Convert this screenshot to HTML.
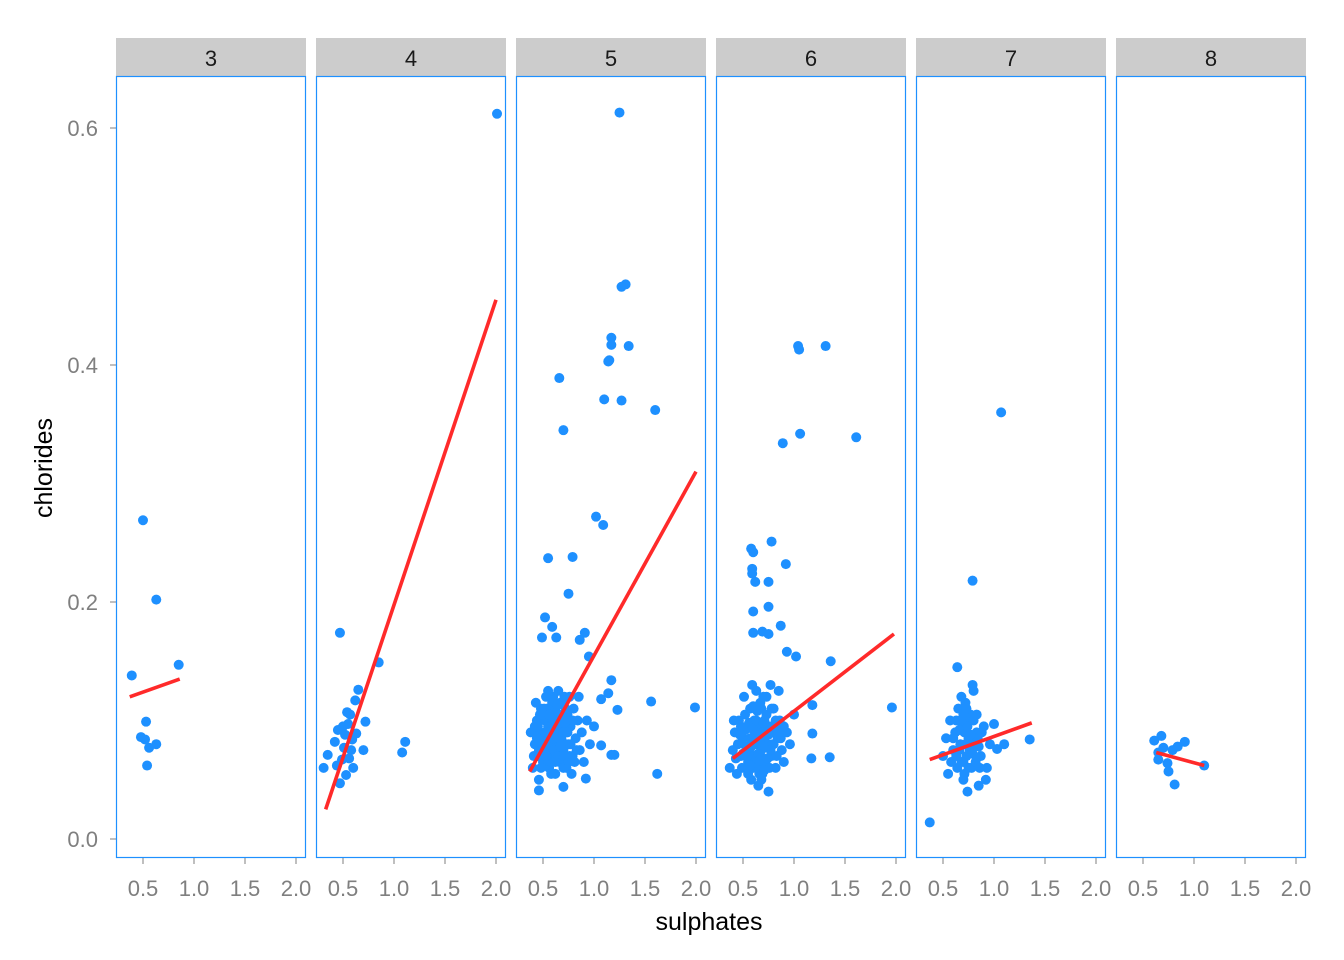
<!DOCTYPE html>
<html><head><meta charset="utf-8"><style>
body{margin:0;background:#fff;}
svg{display:block;font-family:"Liberation Sans",Arial,sans-serif;}
</style></head><body>
<svg id="chart" width="1344" height="960" xmlns="http://www.w3.org/2000/svg">
<text x="52" y="468" font-size="25" text-anchor="middle" transform="rotate(-90 52 468)">chlorides</text>
<text x="709" y="930" font-size="25" text-anchor="middle">sulphates</text>
</svg>
<script>
const facets=["3","4","5","6","7","8"];
const yTicks=[0,0.2,0.4,0.6];
const yTickLabels=["0.0","0.2","0.4","0.6"];
const xTicks=[0.5,1.0,1.5,2.0];
const xTickLabels=["0.5","1.0","1.5","2.0"];
const pts3=[[0.39,0.138],[0.5,0.269],[0.63,0.202],[0.85,0.147],[0.53,0.099],[0.48,0.086],[0.52,0.084],[0.56,0.077],[0.63,0.08],[0.54,0.062]];
const pts4=[[2.01,0.612],[0.47,0.174],[0.85,0.149],[1.08,0.073],[1.11,0.082],[0.31,0.06],[0.35,0.071],[0.42,0.082],[0.45,0.092],[0.49,0.067],[0.47,0.047],[0.53,0.054],[0.57,0.105],[0.59,0.084],[0.62,0.117],[0.65,0.126],[0.55,0.097],[0.52,0.088],[0.7,0.075],[0.72,0.099],[0.44,0.062],[0.51,0.077],[0.6,0.06],[0.54,0.107],[0.63,0.089],[0.5,0.095],[0.58,0.075],[0.56,0.068]];
const pts5=[[1.25,0.613],[1.31,0.468],[1.27,0.466],[1.34,0.416],[1.17,0.423],[1.17,0.417],[1.15,0.404],[1.14,0.403],[1.1,0.371],[1.27,0.37],[1.6,0.362],[0.66,0.389],[0.7,0.345],[1.02,0.272],[1.09,0.265],[0.55,0.237],[0.79,0.238],[0.75,0.207],[1.99,0.111],[1.56,0.116],[1.62,0.055],[0.52,0.187],[0.59,0.179],[0.49,0.17],[0.63,0.17],[0.91,0.174],[0.86,0.168],[0.95,0.154],[1.17,0.134],[1.14,0.123],[1.07,0.118],[1.23,0.109],[1.17,0.071],[1.2,0.071],[1.07,0.079],[0.92,0.051],[0.7,0.044],[0.46,0.041],
[0.4,0.06],[0.42,0.08],[0.44,0.1],[0.45,0.07],[0.47,0.09],[0.48,0.11],[0.5,0.065],[0.5,0.085],[0.52,0.1],[0.53,0.12],[0.54,0.075],[0.55,0.095],[0.56,0.06],[0.57,0.11],[0.58,0.08],[0.59,0.1],[0.6,0.07],[0.6,0.12],[0.61,0.09],[0.62,0.055],[0.63,0.105],[0.64,0.08],[0.65,0.095],[0.66,0.065],[0.67,0.115],[0.68,0.085],[0.69,0.1],[0.7,0.075],[0.71,0.12],[0.72,0.09],[0.73,0.06],[0.74,0.105],[0.75,0.08],[0.77,0.095],[0.79,0.07],[0.8,0.11],[0.82,0.085],[0.84,0.1],[0.86,0.075],[0.88,0.09],[0.9,0.065],[0.93,0.1],[0.96,0.08],[1.0,0.095],[0.38,0.09],[0.43,0.115],[0.46,0.05],[0.51,0.075],[0.55,0.125],[0.58,0.065],[0.62,0.085],[0.66,0.1],[0.7,0.06],[0.73,0.08],[0.76,0.12],[0.52,0.09],[0.57,0.085],[0.63,0.07],[0.68,0.075],[0.49,0.105],[0.41,0.07],[0.78,0.055],[0.85,0.12],[0.65,0.125],[0.6,0.1],[0.54,0.11],
[0.42,0.095],[0.44,0.085],[0.46,0.075],[0.47,0.105],[0.49,0.08],[0.51,0.11],[0.53,0.07],[0.55,0.08],[0.56,0.105],[0.58,0.095],[0.59,0.115],[0.61,0.075],[0.62,0.11],[0.64,0.095],[0.65,0.07],[0.67,0.09],[0.68,0.105],[0.7,0.09],[0.71,0.07],[0.72,0.11],[0.74,0.09],[0.75,0.065],[0.77,0.08],[0.79,0.1],[0.81,0.065],[0.83,0.075],[0.58,0.055],[0.62,0.065],[0.66,0.085],[0.69,0.115],[0.45,0.095],[0.53,0.09],[0.6,0.085],[0.67,0.078],[0.73,0.1],[0.48,0.06],[0.56,0.09],[0.64,0.113],[0.71,0.098],[0.76,0.07]];
const pts6=[[1.04,0.416],[1.05,0.413],[1.31,0.416],[1.06,0.342],[0.89,0.334],[1.61,0.339],[0.78,0.251],[0.58,0.245],[0.6,0.242],[0.92,0.232],[0.59,0.228],[0.59,0.224],[0.62,0.217],[0.75,0.217],[0.6,0.192],[0.75,0.196],[0.69,0.175],[0.75,0.173],[0.6,0.174],[0.87,0.18],[0.93,0.158],[1.02,0.154],[1.36,0.15],[1.96,0.111],[1.18,0.113],[1.18,0.089],[1.35,0.069],[1.17,0.068],
[0.37,0.06],[0.4,0.075],[0.42,0.09],[0.44,0.055],[0.46,0.1],[0.48,0.07],[0.5,0.085],[0.51,0.12],[0.53,0.06],[0.54,0.095],[0.56,0.075],[0.57,0.11],[0.58,0.05],[0.6,0.085],[0.61,0.1],[0.62,0.065],[0.63,0.125],[0.64,0.08],[0.65,0.045],[0.66,0.095],[0.67,0.07],[0.68,0.11],[0.69,0.055],[0.7,0.085],[0.71,0.1],[0.72,0.065],[0.73,0.12],[0.74,0.08],[0.75,0.04],[0.76,0.095],[0.78,0.07],[0.8,0.11],[0.82,0.06],[0.84,0.085],[0.86,0.1],[0.88,0.075],[0.9,0.065],[0.93,0.09],[0.96,0.08],[1.0,0.105],[0.45,0.08],[0.52,0.105],[0.55,0.065],[0.59,0.13],[0.63,0.09],[0.66,0.055],[0.7,0.12],[0.74,0.095],[0.77,0.13],[0.8,0.08],[0.57,0.085],[0.62,0.1],[0.68,0.075],[0.72,0.09],[0.49,0.06],[0.41,0.1],[0.85,0.125],[0.6,0.06],[0.53,0.078],[0.78,0.09],
[0.43,0.068],[0.47,0.088],[0.5,0.072],[0.52,0.092],[0.55,0.055],[0.56,0.098],[0.58,0.078],[0.6,0.112],[0.61,0.07],[0.63,0.1],[0.64,0.06],[0.66,0.082],[0.67,0.115],[0.69,0.09],[0.7,0.065],[0.72,0.078],[0.73,0.105],[0.75,0.088],[0.76,0.06],[0.78,0.11],[0.79,0.08],[0.81,0.095],[0.83,0.07],[0.85,0.09],[0.87,0.085],[0.9,0.095],[0.54,0.07],[0.59,0.093],[0.65,0.072],[0.71,0.058],[0.77,0.075],[0.48,0.095],[0.62,0.088],[0.68,0.05],[0.74,0.068],[0.82,0.1],[0.57,0.062],[0.64,0.108],[0.7,0.098],[0.66,0.066]];
const pts7=[[1.07,0.36],[0.79,0.218],[0.37,0.014],[1.35,0.084],[0.64,0.145],[0.5,0.07],[0.53,0.085],[0.55,0.055],[0.57,0.1],[0.6,0.075],[0.62,0.09],[0.64,0.06],[0.65,0.11],[0.67,0.08],[0.69,0.095],[0.7,0.05],[0.72,0.115],[0.73,0.07],[0.75,0.085],[0.76,0.1],[0.78,0.06],[0.8,0.125],[0.81,0.08],[0.83,0.09],[0.85,0.045],[0.87,0.07],[0.9,0.095],[0.93,0.06],[0.96,0.08],[1.0,0.097],[1.03,0.076],[1.1,0.08],[0.68,0.12],[0.74,0.04],[0.79,0.13],[0.58,0.065],[0.66,0.075],[0.71,0.09],[0.77,0.105],[0.84,0.085],[0.92,0.05],[0.63,0.1],[0.7,0.065],
[0.6,0.085],[0.63,0.07],[0.66,0.092],[0.68,0.065],[0.7,0.105],[0.72,0.08],[0.74,0.095],[0.75,0.06],[0.77,0.088],[0.79,0.072],[0.8,0.1],[0.82,0.065],[0.85,0.078],[0.88,0.09],[0.67,0.1],[0.73,0.11],[0.76,0.076],[0.83,0.105],[0.71,0.055],[0.86,0.06]];
const pts8=[[0.61,0.083],[0.68,0.087],[0.65,0.073],[0.7,0.077],[0.74,0.064],[0.75,0.057],[0.81,0.046],[0.84,0.078],[0.91,0.082],[0.79,0.075],[1.1,0.062],[0.65,0.067]];
const fits=[[[0.37,0.12],[0.86,0.135]],[[0.33,0.025],[2.0,0.455]],[[0.37,0.057],[2.0,0.31]],[[0.4,0.068],[1.98,0.173]],[[0.37,0.067],[1.37,0.098]],[[0.63,0.073],[1.1,0.062]]];
const allPts=[pts3,pts4,pts5,pts6,pts7,pts8];

const NS="http://www.w3.org/2000/svg";
const svg=document.getElementById('chart');
const P0=116,PW=190,PS=200,TOP=76,BOT=858;
const yS=v=>839-v*1185;
const xS=(i,v)=>P0+i*PS+27+(v-0.5)*102;
function mk(t,a){const e=document.createElementNS(NS,t);for(const k in a)e.setAttribute(k,a[k]);svg.appendChild(e);return e;}

yTicks.forEach((v,j)=>{
  const t=mk('line',{x1:110,x2:116,y1:yS(v),y2:yS(v),stroke:'#7f7f7f','stroke-width':1});
  
  
  const l=mk('text',{x:98,y:yS(v)+8,'font-size':22,fill:'#7f7f7f','text-anchor':'end'});
  l.textContent=yTickLabels[j];
  
  
});
facets.forEach((f,i)=>{
  const L=P0+i*PS;
  const s=mk('rect',{x:L,y:38,width:PW,height:38,fill:'#cccccc'});
  
  
  const st=mk('text',{x:L+PW/2,y:66,'font-size':22,'text-anchor':'middle',fill:'#1a1a1a'});
  st.textContent=f;
  
  
  const b=mk('rect',{x:L+0.5,y:TOP+0.5,width:PW-1,height:BOT-TOP-1,fill:'none',stroke:'#1E90FF','stroke-width':1.2});
  
  
  xTicks.forEach((v,j)=>{
    const t=mk('line',{x1:xS(i,v),x2:xS(i,v),y1:BOT,y2:BOT+6,stroke:'#7f7f7f','stroke-width':1});
    
    
    const l=mk('text',{x:xS(i,v),y:896,'font-size':22,fill:'#7f7f7f','text-anchor':'middle'});
    l.textContent=xTickLabels[j];
    
    
  });
  allPts[i].forEach(p=>{
    const c=mk('circle',{cx:xS(i,p[0]),cy:yS(p[1]),r:5,fill:'#1E90FF'});
    
    
  });
  const fl=fits[i];
  const ln=mk('line',{x1:xS(i,fl[0][0]),y1:yS(fl[0][1]),x2:xS(i,fl[1][0]),y2:yS(fl[1][1]),stroke:'#FF2A2A','stroke-width':3.6});
  
  
});
</script>
</body></html>
